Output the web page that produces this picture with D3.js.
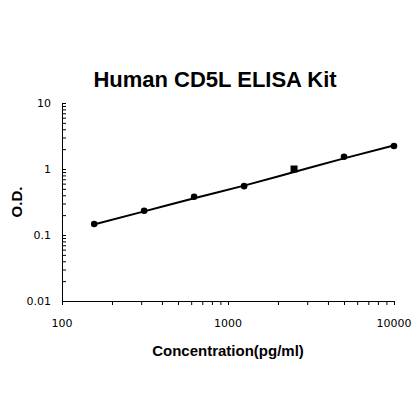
<!DOCTYPE html><html><head><meta charset="utf-8"><script src="https://cdn.jsdelivr.net/npm/d3@7"></script>
<style>body{margin:0;background:#fff}</style></head><body><svg id="c" width="420" height="420"></svg>
<script>
const conc=[156.25,312.5,625,1250,2500,5000,10000];
const od=[0.147,0.233,0.38,0.55,1.0,1.53,2.23];
const fitOd=[0.145,0.228,0.36,0.56,0.90,1.45,2.28];
const xTicks=[100,1000,10000];
const yTicks=[0.01,0.1,1,10];
const svg=d3.select("#c");
const x=d3.scaleLog().domain([100,10000]).range([62,394]);
const y=d3.scaleLog().domain([0.01,10]).range([301,103]);
svg.append("text").attr("x",215).attr("y",87).attr("text-anchor","middle").attr("font-family","Arial, Liberation Sans").attr("font-weight","bold").attr("font-size",22).text("Human CD5L ELISA Kit");
const minorX=[];for(let d=100;d<10000;d*=10)for(let k=1;k<=10;k++)minorX.push(d*k);
const minorY=[];for(let d=0.01;d<9;d*=10)for(let k=1;k<=10;k++)minorY.push(+(d*k).toPrecision(3));
const xa=svg.append("g").attr("transform","translate(0,301)").call(d3.axisBottom(x).tickValues(minorX).tickSize(4).tickFormat(""));
const ya=svg.append("g").attr("transform","translate(62,0)").call(d3.axisLeft(y).tickValues(minorY).tickSizeInner(-4).tickSizeOuter(0).tickFormat(""));
[xa,ya].forEach(g=>{g.select(".domain").attr("stroke","#000");g.selectAll("line").attr("stroke","#000");});
xTicks.forEach(t=>svg.append("text").attr("x",x(t)).attr("y",327).attr("text-anchor","middle").attr("font-family","DejaVu Sans").attr("font-size",11).text(t));
yTicks.forEach(t=>svg.append("text").attr("x",51).attr("y",y(t)+4).attr("text-anchor","end").attr("font-family","DejaVu Sans").attr("font-size",11).text(t));
svg.append("text").attr("x",228).attr("y",356).attr("text-anchor","middle").attr("font-family","Arial, Liberation Sans").attr("font-weight","bold").attr("font-size",15).text("Concentration(pg/ml)");
svg.append("text").attr("transform","translate(22,202) rotate(-90)").attr("text-anchor","middle").attr("font-family","Arial, Liberation Sans").attr("font-weight","bold").attr("font-size",15).text("O.D.");
svg.append("path").datum(conc.map((c,i)=>[c,fitOd[i]])).attr("fill","none").attr("stroke","#000").attr("stroke-width",2)
 .attr("d",d3.line().x(d=>x(d[0])).y(d=>y(d[1])).curve(d3.curveMonotoneX));
conc.forEach((c,i)=>{ if(c===2500) svg.append("rect").attr("x",x(c)-3.5).attr("y",y(od[i])-3.5).attr("width",7).attr("height",7);
 else svg.append("circle").attr("cx",x(c)).attr("cy",y(od[i])).attr("r",3.3);});
</script></body></html>
